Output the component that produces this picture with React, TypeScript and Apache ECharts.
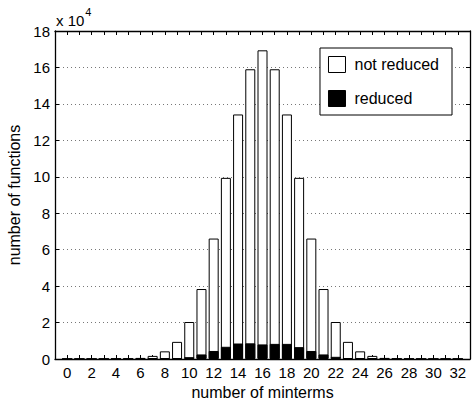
import React, { useEffect, useRef } from "react";
import * as echarts from "echarts";

// number of minterms (x positions)
const minterms: number[] = Array.from({ length: 33 }, (_, i) => i);
// number of functions, in units of 10^4
const notReduced: number[] = [
  0, 0, 0, 0, 0.005, 0.02, 0.06, 0.17, 0.42, 0.94, 2.03, 3.84, 6.61, 9.94, 13.42, 15.9,
  16.94, 15.9, 13.42, 9.94, 6.61, 3.84, 2.03, 0.94, 0.42, 0.17, 0.06, 0.02, 0.005, 0, 0, 0, 0,
];
const reduced: number[] = [
  0, 0, 0, 0, 0, 0, 0, 0, 0.005, 0.03, 0.1, 0.25, 0.44, 0.67, 0.85, 0.86,
  0.8, 0.83, 0.83, 0.65, 0.44, 0.25, 0.12, 0.03, 0.005, 0, 0, 0, 0, 0, 0, 0, 0,
];
const yTicks: number[] = [0, 2, 4, 6, 8, 10, 12, 14, 16, 18];

const FONT = "Liberation Sans, Arial, Helvetica, sans-serif";

export default function App() {
  const ref = useRef<HTMLDivElement>(null);
  useEffect(() => {
    if (!ref.current) return;
    const chart = echarts.init(ref.current, undefined, { renderer: "svg" });
    const axisLine = { show: true, onZero: false, lineStyle: { color: "#000", width: 1.3 } };
    const ticksIn = { show: true, inside: true, length: 4, lineStyle: { color: "#000", width: 1 } };
    chart.setOption({
      animation: false,
      backgroundColor: "#fff",
      textStyle: { fontFamily: FONT },
      grid: { left: 55, top: 31, right: 2, bottom: 44, containLabel: false, outerBoundsMode: "none" },
      legend: {
        orient: "vertical",
        right: 20,
        top: 48,
        itemWidth: 17,
        itemHeight: 16,
        itemGap: 17,
        padding: [8, 13, 8, 8],
        borderColor: "#000",
        borderWidth: 1,
        backgroundColor: "#fff",
        textStyle: { fontSize: 16, color: "#000", fontFamily: FONT, padding: [0, 0, 0, 4] },
        data: [
          { name: "not reduced", icon: "rect", itemStyle: { color: "#fff", borderColor: "#000", borderWidth: 1 } },
          { name: "reduced", icon: "rect", itemStyle: { color: "#000", borderColor: "#000", borderWidth: 1 } },
        ],
      },
      graphic: [
        {
          type: "text",
          left: 56,
          top: 6,
          style: {
            text: "{a|x 10}{b|4}",
            rich: {
              a: { fontSize: 15, fontFamily: FONT, fill: "#000", verticalAlign: "bottom", padding: [7, 0, 0, 0] },
              b: { fontSize: 11, fontFamily: FONT, fill: "#000", verticalAlign: "top", padding: [0, 0, 7, 1] },
            },
          },
        },
      ],
      xAxis: [
        {
          type: "value",
          min: -1,
          max: 33,
          interval: 1,
          position: "bottom",
          axisLine,
          axisTick: ticksIn,
          splitLine: { show: false },
          axisLabel: {
            color: "#000",
            fontSize: 15,
            margin: 6,
            fontFamily: FONT,
            formatter: (v: number) => (v >= 0 && v <= 32 && v % 2 === 0 ? String(v) : ""),
          },
          name: "number of minterms",
          nameLocation: "middle",
          nameGap: 25,
          nameTextStyle: { color: "#000", fontSize: 16, fontFamily: FONT },
        },
        {
          type: "value",
          min: -1,
          max: 33,
          interval: 1,
          position: "top",
          axisLine,
          axisTick: ticksIn,
          splitLine: { show: false },
          axisLabel: { show: false },
        },
      ],
      yAxis: [
        {
          type: "value",
          min: 0,
          max: 18,
          interval: 2,
          position: "left",
          axisLine,
          axisTick: ticksIn,
          splitLine: { show: true, lineStyle: { color: "#777", width: 1, type: [1, 3] } },
          axisLabel: {
            color: "#000",
            fontSize: 15,
            margin: 5,
            fontFamily: FONT,
            formatter: (v: number) => (yTicks.includes(v) ? String(v) : ""),
          },
          name: "number of functions",
          nameLocation: "middle",
          nameGap: 27,
          nameRotate: 90,
          nameTextStyle: { color: "#000", fontSize: 16, fontFamily: FONT },
        },
        {
          type: "value",
          min: 0,
          max: 18,
          interval: 2,
          position: "right",
          axisLine,
          axisTick: ticksIn,
          splitLine: { show: false },
          axisLabel: { show: false },
        },
      ],
      series: [
        {
          name: "not reduced",
          type: "bar",
          xAxisIndex: 0,
          yAxisIndex: 0,
          barWidth: 10,
          barGap: "-100%",
          itemStyle: { color: "#fff", borderColor: "#000", borderWidth: 1 },
          data: minterms.map((m, i) => [m, notReduced[i]]),
          z: 2,
        },
        {
          name: "reduced",
          type: "bar",
          xAxisIndex: 0,
          yAxisIndex: 0,
          barWidth: 10,
          barGap: "-100%",
          itemStyle: { color: "#000", borderColor: "#000", borderWidth: 1 },
          data: minterms.map((m, i) => [m, reduced[i]]),
          z: 3,
        },
      ],
    });
    return () => chart.dispose();
  }, []);
  return (
    <div
      ref={ref}
      style={{ position: "absolute", left: 0, top: 0, width: 472, height: 403 }}
    />
  );
}
